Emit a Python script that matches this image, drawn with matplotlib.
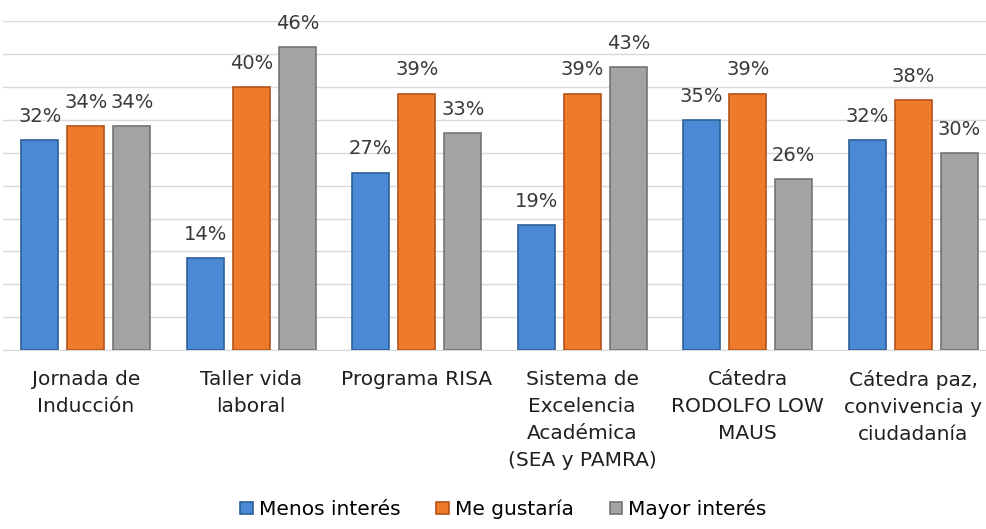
import numpy as np
import matplotlib.pyplot as plt

categorias = ["Jornada de\nInducción", "Taller vida\nlaboral", "Programa RISA",
              "Sistema de\nExcelencia\nAcadémica\n(SEA y PAMRA)",
              "Cátedra\nRODOLFO LOW\nMAUS", "Cátedra paz,\nconvivencia y\nciudadanía"]
menos_interes = [32, 14, 27, 19, 35, 32]
me_gustaria = [34, 40, 39, 39, 39, 38]
mayor_interes = [34, 46, 33, 43, 26, 30]
series_nombres = ["Menos interés", "Me gustaría", "Mayor interés"]

colores = ["#4a8ad4", "#ee7a2c", "#a3a3a3"]
bordes = ["#2d5f99", "#b5531a", "#747474"]

plt.rcParams['font.family'] = ['DejaVu Sans']

fig = plt.figure(figsize=(9.87, 5.29), dpi=100)
ax = fig.add_axes([3 / 987, 0.338, 993 / 987, 0.622])

x = np.arange(len(categorias))
ancho = 0.225
paso = 0.278
for i, datos in enumerate([menos_interes, me_gustaria, mayor_interes]):
    pos = x + (i - 1) * paso
    ax.bar(pos, datos, ancho, color=colores[i], edgecolor=bordes[i],
           linewidth=1.2, label=series_nombres[i], zorder=3)
    for p, v in zip(pos, datos):
        ax.annotate(f"{v}%", (p, v), xytext=(0, 17), textcoords="offset points",
                    ha="center", va="center", fontsize=14, color="#3a3a3a")

ax.set_xlim(-0.5, len(categorias) - 0.5)
ax.set_ylim(0, 50)
ax.set_yticks(np.arange(0, 51, 5))
ax.set_yticklabels([])
ax.tick_params(axis="y", length=0)
ax.tick_params(axis="x", length=0, pad=14)
ax.yaxis.grid(True, color="#d9d9d9", linewidth=1, zorder=0)
ax.set_xticks(x)
ax.set_xticklabels(categorias, fontsize=14.5, color="#202020", va="top", linespacing=1.55)
for s in ["top", "right", "left"]:
    ax.spines[s].set_visible(False)
ax.spines["bottom"].set_color("#d9d9d9")

fig.legend(loc="lower center", bbox_to_anchor=(0.51, -0.004), ncol=3, frameon=False,
           fontsize=14.5, handlelength=0.6, handleheight=0.6, columnspacing=1.8,
           handletextpad=0.3, borderpad=0.1)

fig.savefig("out.png", dpi=100)
